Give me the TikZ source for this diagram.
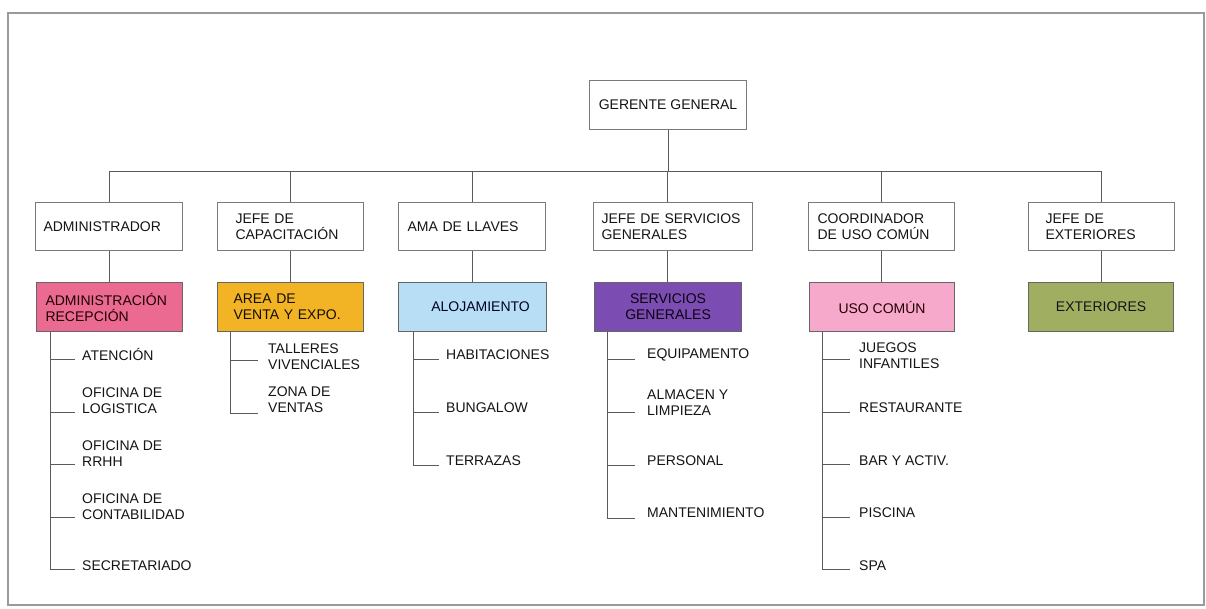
\documentclass[tikz,border=0pt]{standalone}
\usepackage{fontspec}
\setmainfont{Liberation Sans}
\definecolor{lnc}{HTML}{5A5A5A}
\definecolor{bdc}{HTML}{7A7A7A}
\definecolor{frc}{HTML}{9A9A9A}
\definecolor{cpink}{HTML}{EA6A92}
\definecolor{cgold}{HTML}{F2B324}
\definecolor{cblue}{HTML}{B7DEF5}
\definecolor{cpurp}{HTML}{7B4DB2}
\definecolor{clpink}{HTML}{F7A9CC}
\definecolor{colive}{HTML}{A0AE62}
\begin{document}
\begin{tikzpicture}[x=1pt,y=-1pt,
 every node/.style={font=\fontsize{14}{16}\selectfont},
 bx/.style={draw=bdc, line width=1.1pt, anchor=north west, inner ysep=0pt, minimum height=48pt, align=left, text=black!92},
 cbx/.style={draw=black!60, line width=1.1pt, anchor=north west, inner ysep=0pt, minimum height=49pt, align=center, text=black!92},
 item/.style={anchor=west, inner sep=0pt, align=left, text=black!92},
 ln/.style={draw=lnc, line width=1pt}]
\useasboundingbox (0,0) rectangle (1206,608);
\draw[frc, line width=1.2pt] (8,13) rectangle (1204,605);

% top
\node[bx, align=center, minimum width=157pt, minimum height=49pt, inner xsep=0pt] (ger) at (589,80) {GERENTE GENERAL};

% level 1
\node[bx, inner xsep=8pt, text width=131pt] (l1a) at (35,202) {ADMINISTRADOR};
\node[bx, inner xsep=18pt, text width=110pt] (l1b) at (217,202) {JEFE DE\\CAPACITACIÓN};
\node[bx, inner xsep=9pt, text width=129pt] (l1c) at (398,202) {AMA DE LLAVES};
\node[bx, inner xsep=8pt, text width=143pt] (l1d) at (593,202) {JEFE DE SERVICIOS\\GENERALES};
\node[bx, inner xsep=9pt, text width=128pt] (l1e) at (808,202) {COORDINADOR\\DE USO COMÚN};
\node[bx, inner xsep=17pt, text width=112pt] (l1f) at (1028,202) {JEFE DE\\EXTERIORES};

% level 2
\node[cbx, fill=cpink, align=left, inner xsep=9pt, text width=128pt, text=black!88!red] (l2a) at (36,282) {ADMINISTRACIÓN\\RECEPCIÓN};
\node[cbx, fill=cgold, align=left, inner xsep=16pt, text width=114pt, text=black!90!brown] (l2b) at (217,282) {AREA DE\\VENTA Y EXPO.};
\node[cbx, fill=cblue, minimum width=148pt, text=black!85!blue] (l2c) at (398,282) {\hspace*{16pt}ALOJAMIENTO};
\node[cbx, fill=cpurp, minimum width=147pt, text=black!88!violet] (l2d) at (594,282) {SERVICIOS\\GENERALES};
\node[cbx, fill=clpink, minimum width=145pt, text=black!85!red] (l2e) at (809,282) {USO COMÚN};
\node[cbx, fill=colive, minimum width=145pt] (l2f) at (1028,282) {EXTERIORES};

% bus and vertical connectors
\coordinate (bus) at (667,171);
\draw[ln] (ger.south) -- (ger.south |- bus);
\draw[ln] (l1a.north |- bus) -- (l1f.north |- bus);
\foreach \n in {l1a,l1b,l1c,l1e,l1f} \draw[ln] (\n.north |- bus) -- (\n.north);
\draw[ln] (bus) -- (bus |- l1d.north);
\draw[ln] (l1a.south) -- (l1a.south |- l2a.north);
\draw[ln] (l1b.south) -- (l1b.south |- l2b.north);
\draw[ln] (l1c.south) -- (l1c.south |- l2c.north);
\draw[ln] (bus |- l1d.south) -- (bus |- l2d.north);
\draw[ln] (l1e.south) -- (l1e.south |- l2e.north);
\draw[ln] (l1f.south) -- (l1f.south |- l2f.north);

% items: administración
\node[item] (ai1) at (82,354) {ATENCIÓN};
\node[item] (ai2) at (82,401) {OFICINA DE\\LOGISTICA};
\node[item] (ai3) at (82,454) {OFICINA DE\\RRHH};
\node[item] (ai4) at (82,506.5) {OFICINA DE\\CONTABILIDAD};
\node[item] (ai5) at (82,566) {SECRETARIADO};
\foreach \n/\y in {1/359,2/412,3/464,4/517,5/569} \coordinate (a\n) at (50,\y);
\draw[ln] (a1 |- l2a.south) -- (a5);
\foreach \n in {1,...,5} \draw[ln] (a\n) -- ([xshift=-7pt]ai\n.west |- a\n);

% items: capacitación
\node[item] (bi1) at (268,357) {TALLERES\\VIVENCIALES};
\node[item] (bi2) at (268,399.5) {ZONA DE\\VENTAS};
\foreach \n/\y in {1/360,2/413} \coordinate (b\n) at (230,\y);
\draw[ln] (b1 |- l2b.south) -- (b2);
\foreach \n in {1,2} \draw[ln] (b\n) -- ([xshift=-10pt]bi\n.west |- b\n);

% items: alojamiento
\node[item] (ci1) at (446,355) {HABITACIONES};
\node[item] (ci2) at (446,408) {BUNGALOW};
\node[item] (ci3) at (446,461) {TERRAZAS};
\foreach \n/\y in {1/359,2/412,3/465} \coordinate (c\n) at (413,\y);
\draw[ln] (c1 |- l2c.south) -- (c3);
\foreach \n in {1,2,3} \draw[ln] (c\n) -- ([xshift=-7pt]ci\n.west |- c\n);

% items: servicios generales
\node[item] (di1) at (647,355) {EQUIPAMENTO};
\node[item] (di2) at (647,402.5) {ALMACEN Y\\LIMPIEZA};
\node[item] (di3) at (647,461) {PERSONAL};
\node[item] (di4) at (647,513) {MANTENIMIENTO};
\foreach \n/\y in {1/359,2/412,3/465,4/518} \coordinate (d\n) at (607,\y);
\draw[ln] (d1 |- l2d.south) -- (d4);
\foreach \n in {1,...,4} \draw[ln] (d\n) -- ([xshift=-12pt]di\n.west |- d\n);

% items: uso común
\node[item] (ei1) at (859,356) {JUEGOS\\INFANTILES};
\node[item] (ei2) at (859,408) {RESTAURANTE};
\node[item] (ei3) at (859,461) {BAR Y ACTIV.};
\node[item] (ei4) at (859,513) {PISCINA};
\node[item] (ei5) at (859,566) {SPA};
\foreach \n/\y in {1/359,2/412,3/464,4/517,5/569} \coordinate (e\n) at (822,\y);
\draw[ln] (e1 |- l2e.south) -- (e5);
\foreach \n in {1,...,5} \draw[ln] (e\n) -- ([xshift=-9pt]ei\n.west |- e\n);
\end{tikzpicture}
\end{document}
